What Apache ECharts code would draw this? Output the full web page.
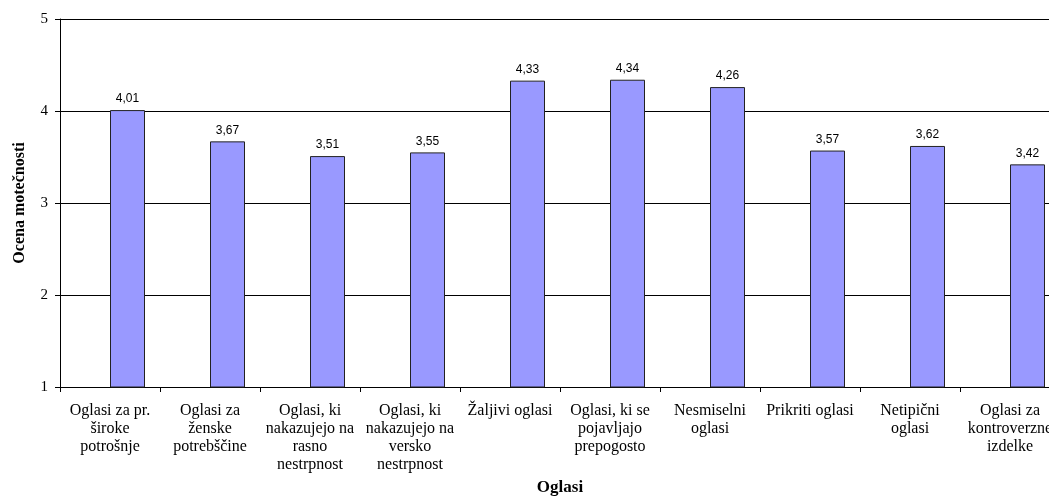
<!DOCTYPE html>
<html>
<head>
<meta charset="utf-8">
<script src="https://cdn.jsdelivr.net/npm/echarts@6/dist/echarts.min.js"></script>
<style>
  html, body { margin: 0; padding: 0; background: #fff; }
  #chart { width: 1049px; height: 496px; }
</style>
</head>
<body>
<div id="chart"></div>
<script>
// Ad categories (x axis), with line breaks as printed under the bars
const categories = [
  'Oglasi za pr.\nširoke\npotrošnje',
  'Oglasi za\nženske\npotrebščine',
  'Oglasi, ki\nnakazujejo na\nrasno\nnestrpnost',
  'Oglasi, ki\nnakazujejo na\nversko\nnestrpnost',
  'Žaljivi oglasi',
  'Oglasi, ki se\npojavljajo\nprepogosto',
  'Nesmiselni\noglasi',
  'Prikriti oglasi',
  'Netipični\noglasi',
  'Oglasi za\nkontroverzne\nizdelke'
];

// Average annoyance score per category
const scores = [4.01, 3.67, 3.51, 3.55, 4.33, 4.34, 4.26, 3.57, 3.62, 3.42];

// Empty companion series: keeps the slot left of each bar free
const emptySeries = categories.map(() => null);

const yTicks = { min: 1, max: 5, interval: 1 };

const serif = 'Liberation Serif';
const sans = 'Liberation Sans';

const chart = echarts.init(document.getElementById('chart'), null, { renderer: 'canvas' });

chart.setOption({
  animation: false,
  backgroundColor: '#ffffff',
  grid: { left: 60, top: 19, width: 1000, height: 368, containLabel: false, outerBoundsMode: 'none' },
  xAxis: {
    type: 'category',
    data: categories,
    name: 'Oglasi',
    nameLocation: 'middle',
    nameGap: 92,
    nameTextStyle: { fontFamily: serif, fontWeight: 'bold', fontSize: 17, color: '#000' },
    axisLine: { show: true, lineStyle: { color: '#000', width: 1 } },
    axisTick: { show: true, alignWithLabel: false, length: 5, lineStyle: { color: '#000' } },
    axisLabel: {
      interval: 0,
      margin: 15,
      fontFamily: serif,
      fontSize: 16,
      lineHeight: 18,
      color: '#000',
      align: 'center'
    },
    splitLine: { show: false }
  },
  yAxis: {
    type: 'value',
    min: yTicks.min,
    max: yTicks.max,
    interval: yTicks.interval,
    name: 'Ocena motečnosti',
    nameLocation: 'middle',
    nameGap: 32,
    nameRotate: 90,
    nameTextStyle: { fontFamily: serif, fontWeight: 'bold', fontSize: 16, color: '#000' },
    axisLine: { show: true, lineStyle: { color: '#000', width: 1 } },
    axisTick: { show: true, inside: false, length: 5, lineStyle: { color: '#000' } },
    axisLabel: { fontFamily: serif, fontSize: 15, color: '#000', margin: 12 },
    splitLine: { show: true, lineStyle: { color: '#000', width: 1 } }
  },
  series: [
    {
      type: 'bar',
      data: emptySeries,
      barWidth: 35,
      barGap: '0%',
      silent: true
    },
    {
      type: 'bar',
      data: scores,
      barWidth: 35,
      barGap: '0%',
      itemStyle: { color: '#9999ff', borderColor: '#222', borderWidth: 1 },
      label: {
        show: true,
        position: 'top',
        distance: 5,
        fontFamily: sans,
        fontSize: 12,
        color: '#000',
        formatter: p => p.value.toFixed(2).replace('.', ',')
      }
    }
  ]
});
</script>
</body>
</html>
